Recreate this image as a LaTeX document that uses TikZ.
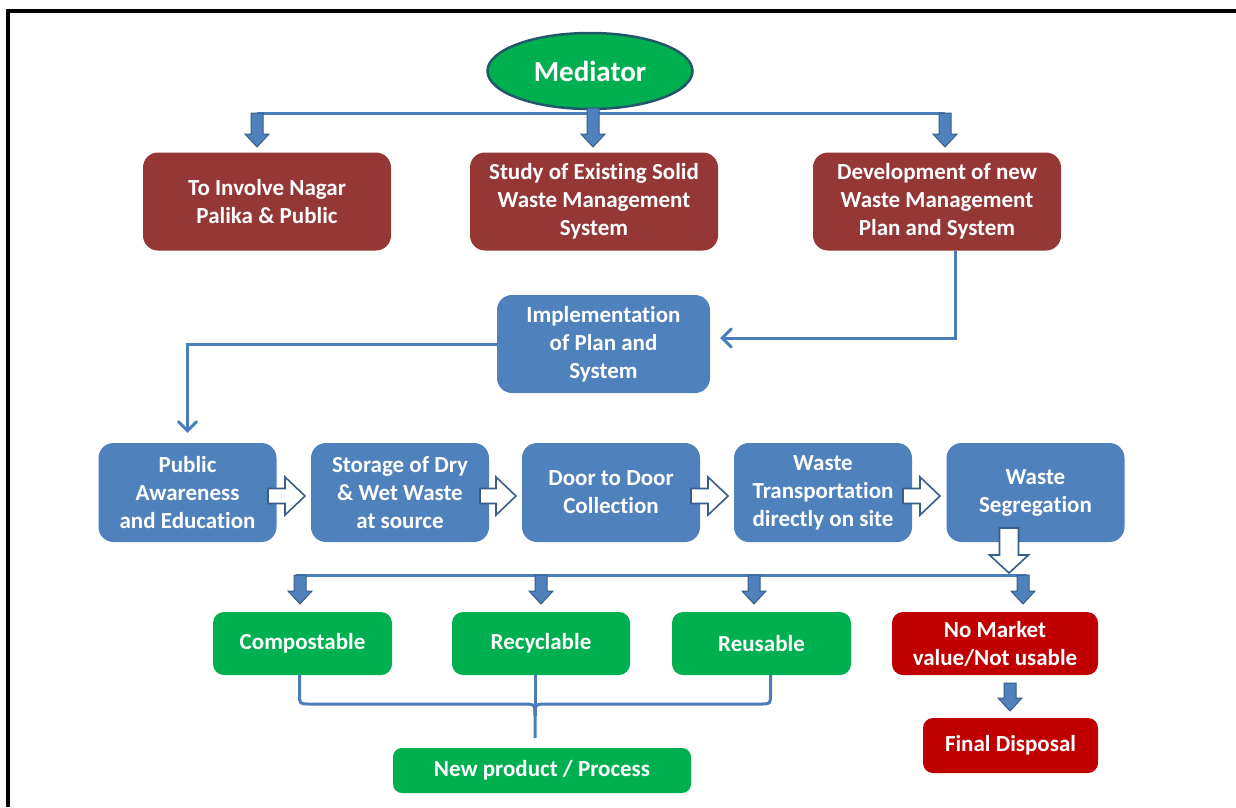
\documentclass[tikz,border=0pt]{standalone}
\usepackage{fontspec}
\setmainfont{Carlito}[RawFeature={-liga;-clig;-dlig;-calt;-hlig}]
\usetikzlibrary{arrows.meta,shapes.geometric,calc}
\definecolor{boxred}{RGB}{149,55,53}
\definecolor{boxblue}{RGB}{79,129,189}
\definecolor{boxgreen}{RGB}{0,176,80}
\definecolor{brightred}{RGB}{192,0,0}
\definecolor{lineblue}{RGB}{74,126,187}
\definecolor{edgeblue}{RGB}{56,93,138}
\definecolor{ellborder}{RGB}{33,89,104}
\newcommand\blkdown[4][]{%
  \draw[blkarrow,#1] ({#2-6},#3) -- ({#2+6},#3) -- ({#2+6},{#4-13}) -- ({#2+12},{#4-13}) -- (#2,#4) -- ({#2-12},{#4-13}) -- ({#2-6},{#4-13}) -- cycle;}
\newcommand\blkright[3]{%
  \draw[whitearrow] (#1,{#3-7.5}) -- ({#2-20},{#3-7.5}) -- ({#2-20},{#3-19}) -- (#2,#3) -- ({#2-20},{#3+19}) -- ({#2-20},{#3+7.5}) -- (#1,{#3+7.5}) -- cycle;}
\begin{document}
\begin{tikzpicture}[x=1pt,y=-1pt,
  boxtext/.style={text=white, font=\fontsize{23}{28}\selectfont\bfseries, align=center, inner sep=0pt},
  bigbox/.style={boxtext, rounded corners=15pt, minimum height=98pt},
  redbox/.style={bigbox, fill=boxred, minimum width=248pt},
  bluebox/.style={bigbox, fill=boxblue, minimum width=178pt},
  greenbox/.style={boxtext, rounded corners=11pt, fill=boxgreen, minimum height=63pt, minimum width=179pt},
  conn/.style={draw=lineblue, line width=3pt},
  barb/.style={-{Straight Barb[length=9pt,width=18pt,line cap=round]}},
  blkarrow/.style={fill=boxblue, draw=edgeblue, line width=1pt, line join=miter},
  whitearrow/.style={fill=white, draw=edgeblue, line width=1.6pt, line join=miter}]
\useasboundingbox (0,0) rectangle (1236,807);
\fill[white] (0,0) rectangle (1236,807);
% frame
\draw[line width=3.5pt] (8,807) -- (8,11) -- (1236,11);

% top fan-out line
\draw[conn] (257,113) -- (945,113);
\node[ellipse, fill=boxgreen, draw=ellborder, line width=2.5pt, minimum width=205pt, minimum height=76pt, inner sep=0pt, text=white, font=\fontsize{29}{34}\selectfont\bfseries] (med) at (590,71) {Mediator};
\blkdown{257}{113}{147}
\blkdown{593}{108}{147}
\blkdown{945}{113}{147}

\node[redbox] (inv) at (267,201.5) {To Involve Nagar\\Palika \& Public};
\node[redbox] (study) at (594,201.5) {Study of Existing Solid\\Waste Management\\System};
\node[redbox] (dev) at (937,201.5) {Development of new\\Waste Management\\Plan and System};

\node[bluebox, minimum width=213pt] (impl) at (603.5,344) {Implementation\\of Plan and\\System};

\draw[conn, barb] ([xshift=18pt]dev.south) |- ([xshift=10pt,yshift=6pt]impl.east);

\node[bluebox, minimum height=99pt] (pub) at (187.5,492.5) {Public\\Awareness\\and Education};
\node[bluebox, minimum height=99pt] (sto) at (400,492.5) {Storage of Dry\\\& Wet Waste\\at source};
\node[bluebox, minimum height=99pt] (door) at (611,492.5) {Door to Door\\Collection};
\node[bluebox, minimum height=99pt] (trans) at (823,492.5) {Waste\\Transportation\\directly on site};
\node[bluebox, minimum height=99pt] (seg) at (1035.5,492.5) {Waste\\Segregation};

\draw[conn, barb] (impl.west) -| ([yshift=10pt]pub.north);

\blkright{268}{305}{496}
\blkright{480}{516}{496}
\blkright{691}{728}{496}
\blkright{903}{940}{496}

% bottom fan-out line
\draw[conn] (296,575) -- (1027,575);
\draw[whitearrow] (999.5,528) -- (1018.5,528) -- (1018.5,555) -- (1028.5,555) -- (1009,573) -- (989.5,555) -- (999.5,555) -- cycle;
\blkdown{300}{575}{604}
\blkdown{541}{575}{604}
\blkdown{754}{575}{604}
\blkdown{1023}{575}{604}

\node[greenbox] (comp) at (302.5,643.5) {Compostable};
\node[greenbox, minimum width=178pt] (rec) at (541,643.5) {Recyclable};
\node[greenbox] (reu) at (761.5,643.5) {Reusable};
\node[boxtext, rounded corners=11pt, fill=brightred, minimum height=63pt, minimum width=206pt] (nomk) at (995,643.5) {No Market\\value/Not usable};

\blkdown{1010}{683}{711}
\node[boxtext, rounded corners=10pt, fill=brightred, minimum height=55pt, minimum width=175pt] (fin) at (1010.5,745.5) {Final Disposal};

\node[boxtext, rounded corners=9pt, fill=boxgreen, minimum height=45pt, minimum width=298pt] (newp) at (542,770.5) {New product / Process};

% brace
\coordinate (bt) at (535,738);
\draw[conn] ([xshift=-3pt]comp.south) -- (299.5,694) .. controls (299.5,704) .. (310,704) -- (522,704) .. controls (535,704) .. (535,716) -- (bt);
\draw[conn] ([xshift=9pt]reu.south) -- (770.5,694) .. controls (770.5,704) .. (760,704) -- (548,704) .. controls (535,704) .. (535,716);
\draw[conn] ([xshift=-6pt]rec.south) -- (535,716);
\end{tikzpicture}
\end{document}
